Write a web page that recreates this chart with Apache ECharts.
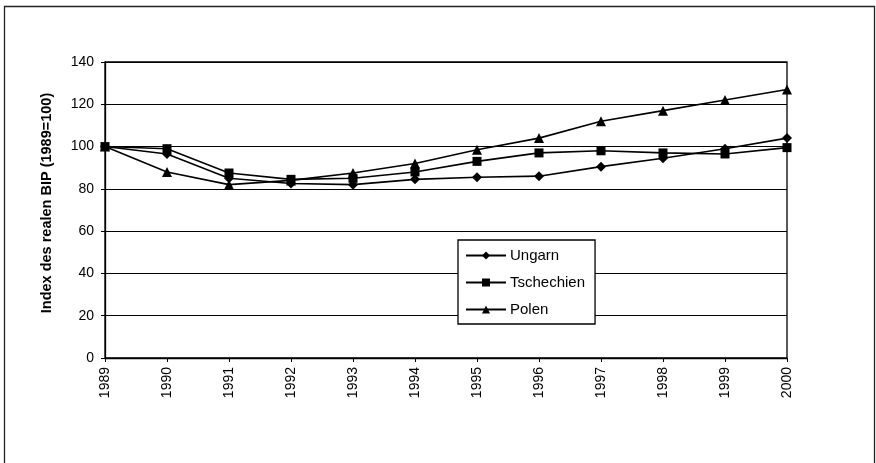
<!DOCTYPE html>
<html>
<head>
<meta charset="utf-8">
<script src="https://cdn.jsdelivr.net/npm/echarts@6/dist/echarts.min.js"></script>
<style>
  html, body { margin: 0; padding: 0; background: #fff; }
  #main { width: 876px; height: 463px; }
</style>
</head>
<body>
<div id="main"></div>
<script>
// Daten
var jahre = ['1989', '1990', '1991', '1992', '1993', '1994', '1995', '1996', '1997', '1998', '1999', '2000'];
var ungarn = [100, 96.5, 85, 82.5, 82, 84.5, 85.5, 86, 90.5, 94.5, 99, 104];
var tschechien = [100, 99, 87.5, 84.5, 85, 88, 93, 97, 98, 97, 96.5, 99.5];
var polen = [100, 88, 82, 84, 87.5, 92, 98.5, 104, 112, 117, 122, 127];
var yTicks = [0, 20, 40, 60, 80, 100, 120, 140];

var chart = echarts.init(document.getElementById('main'));

function reihe(name, daten, symbol, size) {
    return {
        name: name,
        type: 'line',
        data: daten,
        symbol: symbol,
        symbolSize: size,
        showAllSymbol: true,
        lineStyle: { color: '#000', width: 1.6 },
        itemStyle: { color: '#000' },
        emphasis: { disabled: true },
        animation: false
    };
}

var option = {
    backgroundColor: '#fff',
    animation: false,
    textStyle: { fontFamily: 'Liberation Sans, Arial, sans-serif', color: '#000' },
    grid: { left: 105, top: 62, right: 89, bottom: 105, show: true, borderColor: '#000', borderWidth: 1.3 },
    legend: {
        orient: 'vertical',
        left: 458,
        top: 240,
        width: 137,
        padding: [8, 10, 7, 7],
        itemGap: 12,
        itemWidth: 40,
        itemHeight: 10,
        backgroundColor: '#fff',
        borderColor: '#000',
        borderWidth: 1.3,
        textStyle: { fontSize: 15, color: '#000', fontFamily: 'Liberation Sans, Arial, sans-serif', padding: [0, 0, 0, -1] },
        data: ['Ungarn', 'Tschechien', 'Polen']
    },
    xAxis: {
        type: 'category',
        data: jahre,
        boundaryGap: false,
        axisLine: { lineStyle: { color: '#000', width: 1.3 } },
        axisTick: { show: true, length: 4, alignWithLabel: true, lineStyle: { color: '#000' } },
        axisLabel: { rotate: 90, fontSize: 14, color: '#000', margin: 9, interval: 0 },
        splitLine: { show: false }
    },
    yAxis: {
        type: 'value',
        min: 0,
        max: 140,
        interval: 20,
        name: 'Index des realen BIP (1989=100)',
        nameLocation: 'middle',
        nameGap: 51,
        nameTextStyle: { fontSize: 14.5, fontWeight: 'bold', color: '#000', padding: [0, 0, 0, 14] },
        axisLine: { show: true, lineStyle: { color: '#000', width: 1.3 } },
        axisTick: { show: true, length: 4, lineStyle: { color: '#000' } },
        axisLabel: {
            fontSize: 14, color: '#000', margin: 11,
            formatter: function (v) { return yTicks.indexOf(v) >= 0 ? String(v) : ''; }
        },
        splitLine: { show: true, lineStyle: { color: '#000', width: 1.1 } }
    },
    series: [
        reihe('Ungarn', ungarn, 'diamond', 10),
        reihe('Tschechien', tschechien, 'rect', 9),
        reihe('Polen', polen, 'triangle', 10)
    ],
    graphic: [{
        type: 'rect',
        shape: { x: 4.5, y: 6.5, width: 870, height: 470 },
        style: { fill: 'none', stroke: '#222', lineWidth: 1.3 },
        silent: true
    }]
};

chart.setOption(option);
</script>
</body>
</html>
